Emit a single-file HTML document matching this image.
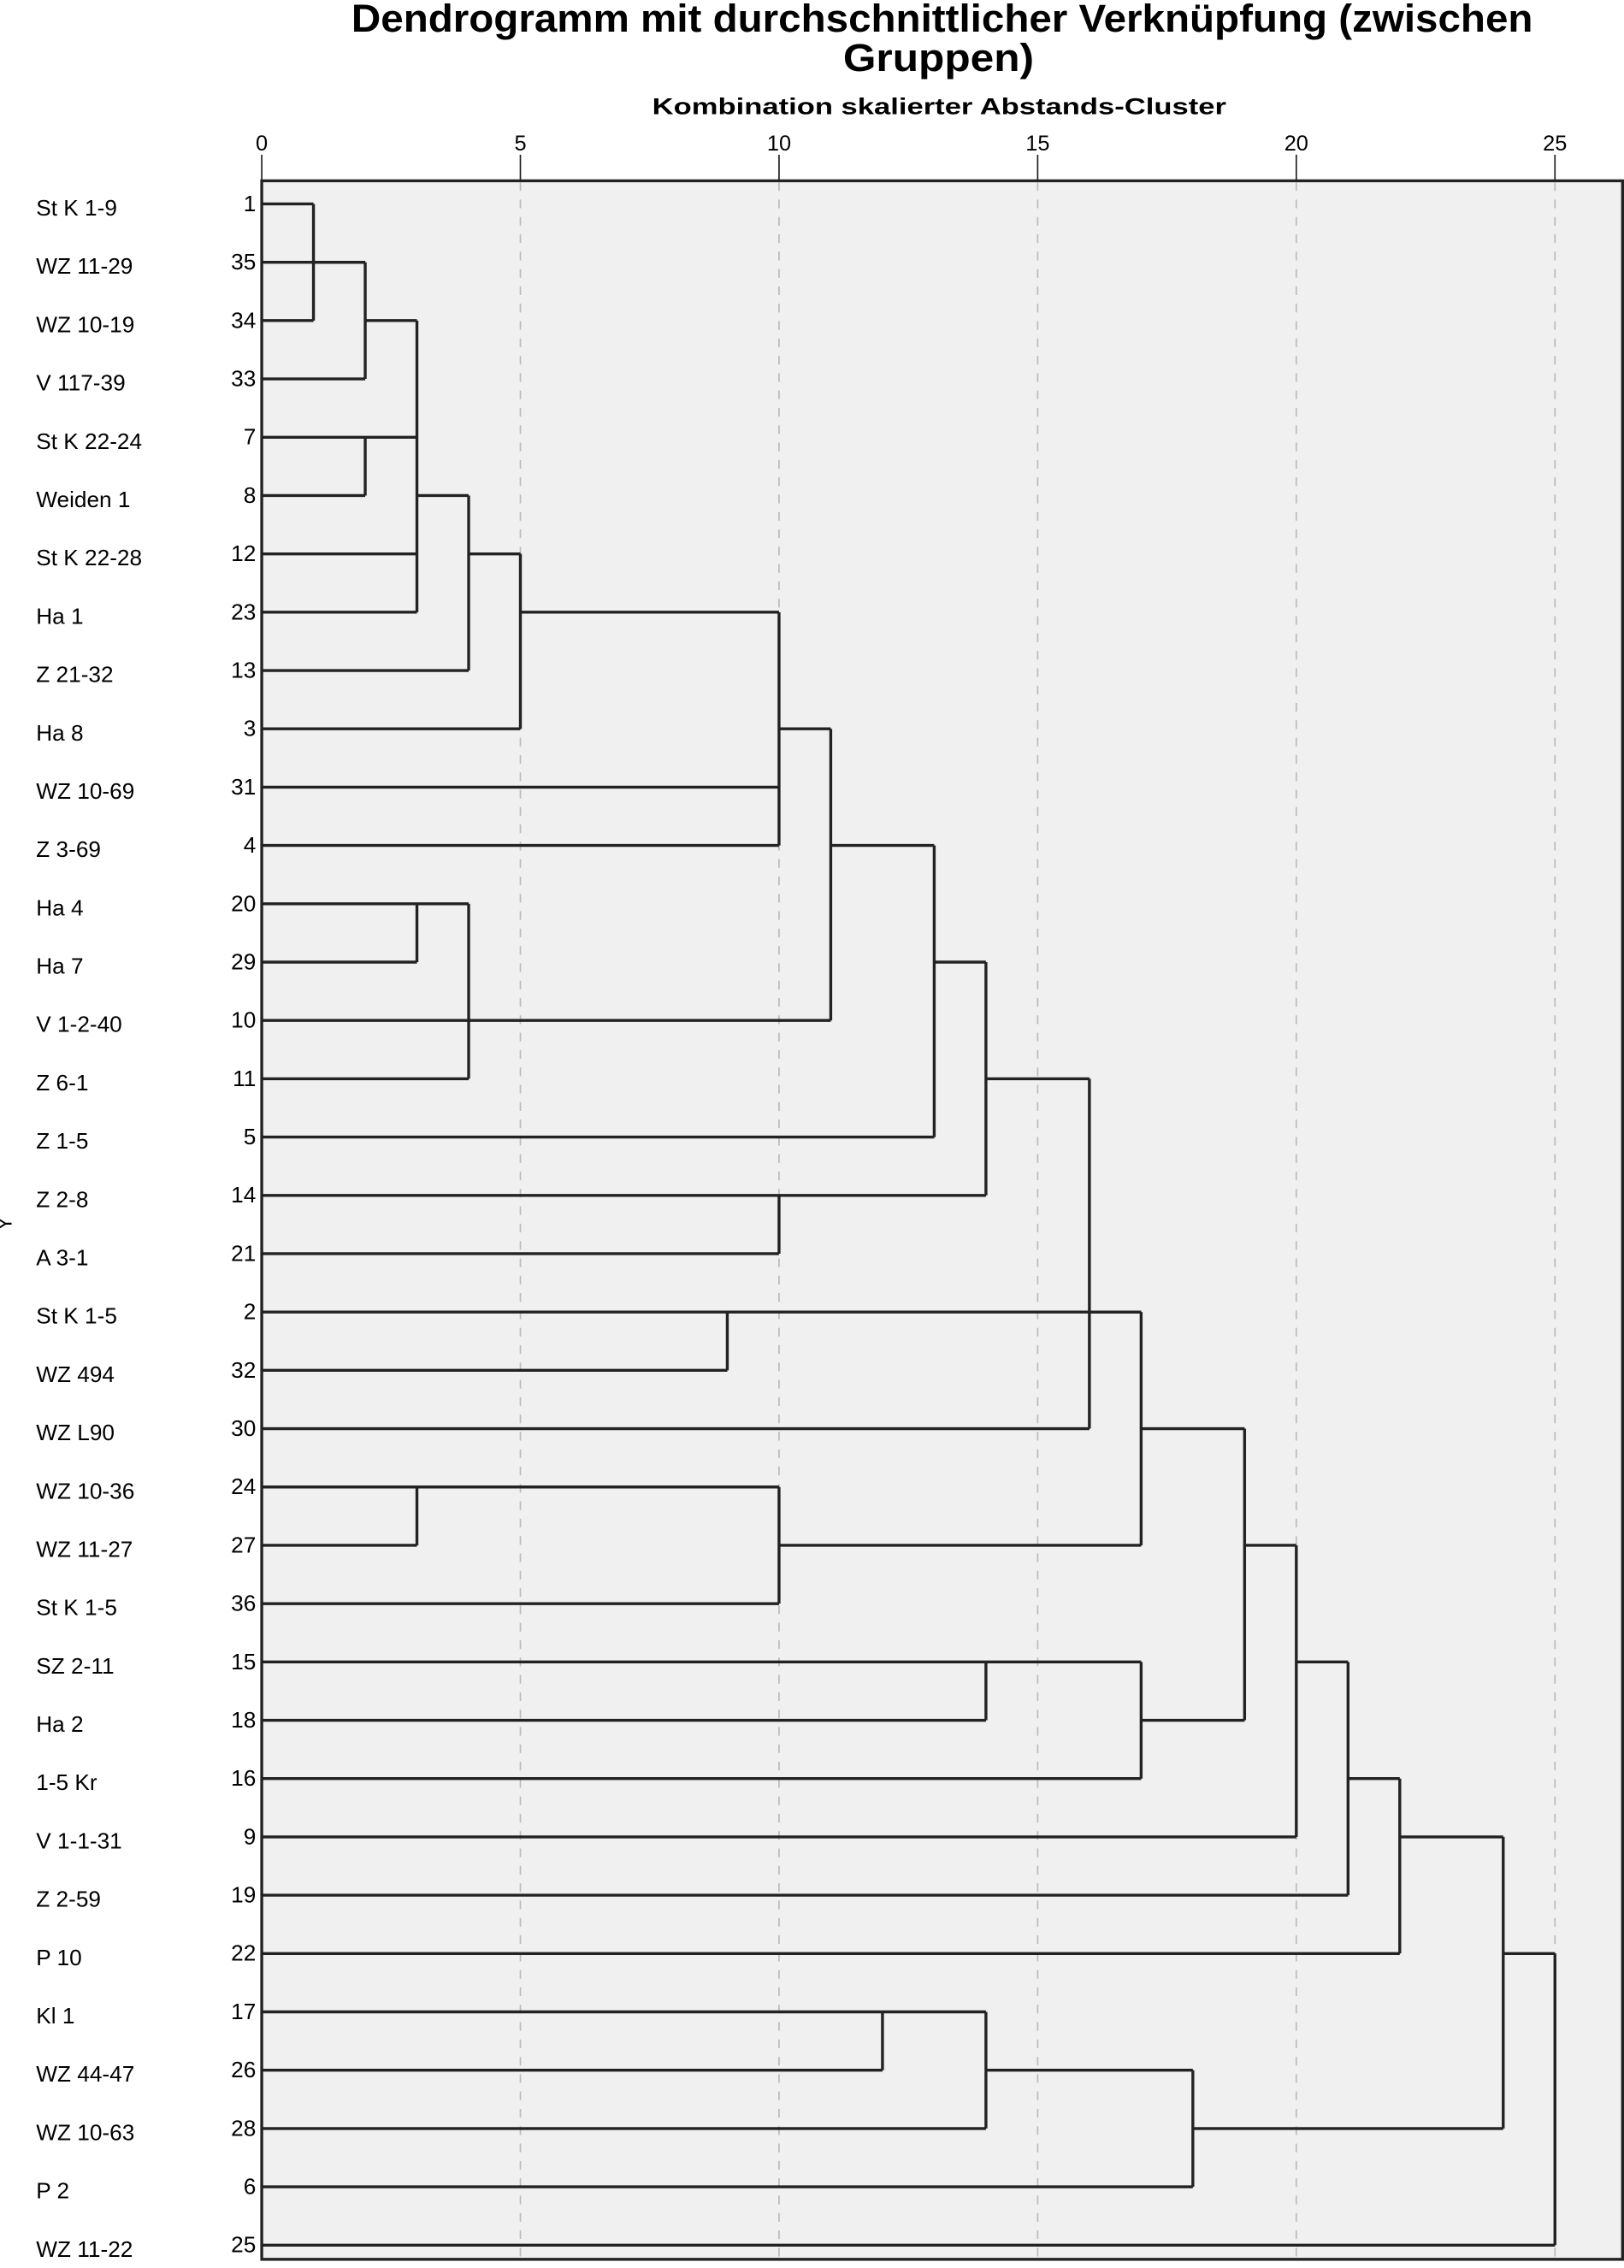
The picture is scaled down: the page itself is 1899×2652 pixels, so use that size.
<!DOCTYPE html>
<html><head><meta charset="utf-8"><style>
html,body{margin:0;padding:0;background:#fff;}
svg{display:block;font-family:"Liberation Sans",sans-serif;}
</style></head><body>
<svg id="chart" width="1899" height="2652" viewBox="0 0 1123 1568" preserveAspectRatio="none" xmlns="http://www.w3.org/2000/svg">
<text x="243" y="22" font-size="27" font-weight="bold" textLength="817" lengthAdjust="spacingAndGlyphs">Dendrogramm mit durchschnittlicher Verknüpfung (zwischen</text>
<text x="583" y="49" font-size="27" font-weight="bold" textLength="132" lengthAdjust="spacingAndGlyphs">Gruppen)</text>
<text x="451" y="79" font-size="16" font-weight="bold" textLength="397" lengthAdjust="spacingAndGlyphs">Kombination skalierter Abstands-Cluster</text>
<text x="8" y="846" font-size="14" transform="rotate(-90 8 846)" text-anchor="middle">Y</text>
<rect x="181" y="125" width="941" height="1437" fill="#f0f0f0" stroke="#222" stroke-width="2"/>
<g id="grid"></g><g id="ticks"></g><g id="labels"></g><g id="tree"></g>
</svg>
<script>
const tickValues = [0, 5, 10, 15, 20, 25];
const leafNames = ["St K 1-9","WZ 11-29","WZ 10-19","V 117-39","St K 22-24","Weiden 1","St K 22-28","Ha 1","Z 21-32","Ha 8","WZ 10-69","Z 3-69","Ha 4","Ha 7","V 1-2-40","Z 6-1","Z 1-5","Z 2-8","A 3-1","St K 1-5","WZ 494","WZ L90","WZ 10-36","WZ 11-27","St K 1-5","SZ 2-11","Ha 2","1-5 Kr","V 1-1-31","Z 2-59","P 10","Kl 1","WZ 44-47","WZ 10-63","P 2","WZ 11-22"];
const caseNumbers = [1,35,34,33,7,8,12,23,13,3,31,4,20,29,10,11,5,14,21,2,32,30,24,27,36,15,18,16,9,19,22,17,26,28,6,25];
// merges: children (leaf ids 0..35, merge node ids 36+), heights, output row
const mergeChildren = [
 [0,2],[36,1,3],[4,5],[37,38,6,7],[39,8],[40,9],[41,10,11],
 [12,13],[43,14,15],[42,44],[45,16],[17,18],[46,47],
 [19,20],[48,21],[22,23],[51,24],[50,49,52],
 [25,26],[54,27],[53,55],[56,28],[57,29],[58,30],
 [31,32],[60,33],[61,34],[59,62],[63,35]
];
const mergeHeights = [1,2,2,3,4,5,10, 3,4,11,13,10,14, 9,16,3,10,17, 14,17,19,20,21,22, 12,14,18,24,25];
const mergeRows = [1,2,4,5,6,7,9, 12,14,11,13,17,15, 19,19,22,23,21, 25,26,23,25,27,28, 31,32,33,30,32];

const NS="http://www.w3.org/2000/svg";
const xS = v => 181 + v*35.77;
const yS = r => 141 + r*40.32;
const grid=document.getElementById('grid'), ticks=document.getElementById('ticks'), labels=document.getElementById('labels'), tree=document.getElementById('tree');
function mk(tag, attrs, parent){const e=document.createElementNS(NS,tag);for(const k in attrs)e.setAttribute(k,attrs[k]);parent.appendChild(e);return e;}
tickValues.forEach(v=>{
  if(v>0){const g=mk('line',{x1:xS(v),x2:xS(v),y1:126,y2:1561,stroke:'#bbb','stroke-width':1,'stroke-dasharray':'6,6'},grid);
  
  }
  const t=mk('line',{x1:xS(v),x2:xS(v),y1:107,y2:125,stroke:'#222','stroke-width':1},ticks);
  
  
  const l=mk('text',{x:xS(v),y:104,'text-anchor':'middle','font-size':15},ticks);l.textContent=v;
  
  
});
const nodeX=[], nodeY=[];
leafNames.forEach((n,i)=>{
  nodeX.push(0); nodeY.push(i);
  const a=mk('text',{x:25,y:yS(i)+8,'font-size':15.5},labels);a.textContent=n;
  
  
  const b=mk('text',{x:177,y:yS(i)+5,'text-anchor':'end','font-size':15.5},labels);b.textContent=caseNumbers[i];
  
  
});
mergeChildren.forEach((ch,k)=>{
  const h=mergeHeights[k];
  let mn=1e9,mx=-1e9;
  ch.forEach(c=>{
    const hl=mk('line',{x1:xS(nodeX[c]),x2:xS(h),y1:yS(nodeY[c]),y2:yS(nodeY[c]),stroke:'#222','stroke-width':2},tree);
    
    
    mn=Math.min(mn,nodeY[c]);mx=Math.max(mx,nodeY[c]);
  });
  const vl=mk('line',{x1:xS(h),x2:xS(h),y1:yS(mn),y2:yS(mx),stroke:'#222','stroke-width':2},tree);
  
  
  nodeX.push(h); nodeY.push(mergeRows[k]);
});
</script>
</body></html>
